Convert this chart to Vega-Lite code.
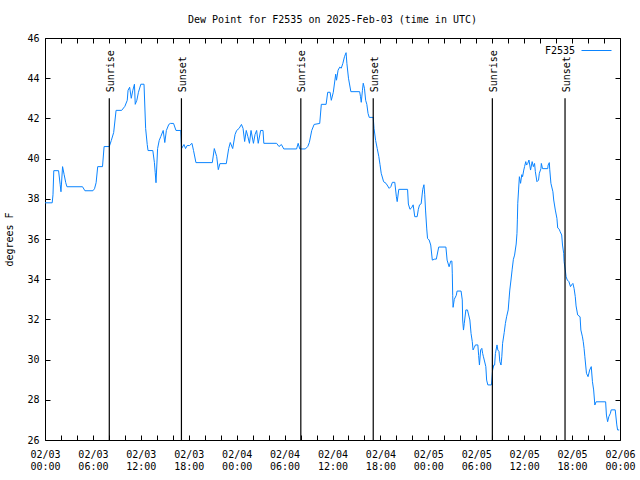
{
  "$schema": "https://vega.github.io/schema/vega-lite/v6.json",
  "width": 575,
  "height": 402,
  "autosize": {"type": "none"},
  "padding": {"left": 45, "top": 38, "right": 20, "bottom": 40},
  "background": "white",
  "title": {"text": "Dew Point for F2535 on 2025-Feb-03 (time in UTC)", "anchor": "middle", "offset": 8, "font": "DejaVu Sans Mono", "fontSize": 10, "fontWeight": "normal", "color": "black"},
  "config": {
    "view": {"stroke": "black", "strokeWidth": 1},
    "axis": {"grid": false, "domain": false, "tickColor": "black", "tickSize": -5, "tickWidth": 1, "labelFont": "DejaVu Sans Mono", "labelFontSize": 10, "labelColor": "black", "titleFont": "DejaVu Sans Mono", "titleFontSize": 10, "titleFontWeight": "normal", "titleColor": "black"},
    "legend": {"labelFont": "DejaVu Sans Mono", "labelFontSize": 10, "labelColor": "black"}
  },
  "datasets": {
    "dew": [
      {"time": "2025-02-03T00:00Z", "dewpoint": 37.8},
      {"time": "2025-02-03T00:54Z", "dewpoint": 37.8},
      {"time": "2025-02-03T01:00Z", "dewpoint": 38.2},
      {"time": "2025-02-03T01:06Z", "dewpoint": 39.4},
      {"time": "2025-02-03T01:42Z", "dewpoint": 39.4},
      {"time": "2025-02-03T01:54Z", "dewpoint": 38.7},
      {"time": "2025-02-03T02:00Z", "dewpoint": 38.35},
      {"time": "2025-02-03T02:12Z", "dewpoint": 39.6},
      {"time": "2025-02-03T02:24Z", "dewpoint": 39.2},
      {"time": "2025-02-03T02:36Z", "dewpoint": 38.8},
      {"time": "2025-02-03T02:45Z", "dewpoint": 38.6},
      {"time": "2025-02-03T04:42Z", "dewpoint": 38.6},
      {"time": "2025-02-03T05:00Z", "dewpoint": 38.4},
      {"time": "2025-02-03T06:00Z", "dewpoint": 38.4},
      {"time": "2025-02-03T06:12Z", "dewpoint": 38.5},
      {"time": "2025-02-03T06:24Z", "dewpoint": 38.8},
      {"time": "2025-02-03T06:36Z", "dewpoint": 39.6},
      {"time": "2025-02-03T07:12Z", "dewpoint": 39.6},
      {"time": "2025-02-03T07:24Z", "dewpoint": 40.6},
      {"time": "2025-02-03T08:03Z", "dewpoint": 40.6},
      {"time": "2025-02-03T08:18Z", "dewpoint": 40.9},
      {"time": "2025-02-03T08:36Z", "dewpoint": 41.3},
      {"time": "2025-02-03T08:54Z", "dewpoint": 42.4},
      {"time": "2025-02-03T09:36Z", "dewpoint": 42.4},
      {"time": "2025-02-03T10:00Z", "dewpoint": 42.6},
      {"time": "2025-02-03T10:18Z", "dewpoint": 42.9},
      {"time": "2025-02-03T10:24Z", "dewpoint": 43.4},
      {"time": "2025-02-03T10:36Z", "dewpoint": 43.55},
      {"time": "2025-02-03T10:48Z", "dewpoint": 43.0},
      {"time": "2025-02-03T11:00Z", "dewpoint": 43.4},
      {"time": "2025-02-03T11:12Z", "dewpoint": 43.7},
      {"time": "2025-02-03T11:18Z", "dewpoint": 42.7},
      {"time": "2025-02-03T11:30Z", "dewpoint": 42.9},
      {"time": "2025-02-03T11:42Z", "dewpoint": 43.3},
      {"time": "2025-02-03T12:00Z", "dewpoint": 43.7},
      {"time": "2025-02-03T12:24Z", "dewpoint": 43.7},
      {"time": "2025-02-03T12:36Z", "dewpoint": 41.5},
      {"time": "2025-02-03T12:48Z", "dewpoint": 40.7},
      {"time": "2025-02-03T12:54Z", "dewpoint": 40.4},
      {"time": "2025-02-03T13:30Z", "dewpoint": 40.4},
      {"time": "2025-02-03T13:42Z", "dewpoint": 39.8},
      {"time": "2025-02-03T13:48Z", "dewpoint": 39.3},
      {"time": "2025-02-03T13:54Z", "dewpoint": 38.8},
      {"time": "2025-02-03T14:06Z", "dewpoint": 40.5},
      {"time": "2025-02-03T14:18Z", "dewpoint": 40.9},
      {"time": "2025-02-03T14:30Z", "dewpoint": 41.1},
      {"time": "2025-02-03T14:48Z", "dewpoint": 41.4},
      {"time": "2025-02-03T15:00Z", "dewpoint": 40.8},
      {"time": "2025-02-03T15:12Z", "dewpoint": 41.4},
      {"time": "2025-02-03T15:30Z", "dewpoint": 41.7},
      {"time": "2025-02-03T15:42Z", "dewpoint": 41.75},
      {"time": "2025-02-03T16:06Z", "dewpoint": 41.75},
      {"time": "2025-02-03T16:24Z", "dewpoint": 41.4},
      {"time": "2025-02-03T17:00Z", "dewpoint": 41.4},
      {"time": "2025-02-03T17:06Z", "dewpoint": 40.5},
      {"time": "2025-02-03T17:24Z", "dewpoint": 40.7},
      {"time": "2025-02-03T17:36Z", "dewpoint": 40.5},
      {"time": "2025-02-03T17:48Z", "dewpoint": 40.65},
      {"time": "2025-02-03T18:06Z", "dewpoint": 40.65},
      {"time": "2025-02-03T18:24Z", "dewpoint": 40.76},
      {"time": "2025-02-03T18:36Z", "dewpoint": 40.4},
      {"time": "2025-02-03T18:54Z", "dewpoint": 39.8},
      {"time": "2025-02-03T20:57Z", "dewpoint": 39.8},
      {"time": "2025-02-03T21:12Z", "dewpoint": 40.5},
      {"time": "2025-02-03T21:30Z", "dewpoint": 40.1},
      {"time": "2025-02-03T21:42Z", "dewpoint": 39.45},
      {"time": "2025-02-03T21:54Z", "dewpoint": 39.75},
      {"time": "2025-02-03T22:42Z", "dewpoint": 39.75},
      {"time": "2025-02-03T23:00Z", "dewpoint": 40.5},
      {"time": "2025-02-03T23:12Z", "dewpoint": 40.8},
      {"time": "2025-02-03T23:30Z", "dewpoint": 40.5},
      {"time": "2025-02-03T23:48Z", "dewpoint": 41.2},
      {"time": "2025-02-04T00:00Z", "dewpoint": 41.4},
      {"time": "2025-02-04T00:18Z", "dewpoint": 41.5},
      {"time": "2025-02-04T00:36Z", "dewpoint": 41.7},
      {"time": "2025-02-04T00:48Z", "dewpoint": 41.5},
      {"time": "2025-02-04T01:00Z", "dewpoint": 40.85},
      {"time": "2025-02-04T01:12Z", "dewpoint": 41.4},
      {"time": "2025-02-04T01:24Z", "dewpoint": 41.1},
      {"time": "2025-02-04T01:36Z", "dewpoint": 40.76},
      {"time": "2025-02-04T01:48Z", "dewpoint": 41.4},
      {"time": "2025-02-04T02:06Z", "dewpoint": 40.76},
      {"time": "2025-02-04T02:18Z", "dewpoint": 41.2},
      {"time": "2025-02-04T02:30Z", "dewpoint": 41.4},
      {"time": "2025-02-04T02:42Z", "dewpoint": 40.76},
      {"time": "2025-02-04T03:00Z", "dewpoint": 41.4},
      {"time": "2025-02-04T03:18Z", "dewpoint": 41.4},
      {"time": "2025-02-04T03:24Z", "dewpoint": 40.76},
      {"time": "2025-02-04T05:00Z", "dewpoint": 40.76},
      {"time": "2025-02-04T05:18Z", "dewpoint": 40.6},
      {"time": "2025-02-04T05:36Z", "dewpoint": 40.7},
      {"time": "2025-02-04T05:54Z", "dewpoint": 40.48},
      {"time": "2025-02-04T07:30Z", "dewpoint": 40.48},
      {"time": "2025-02-04T07:42Z", "dewpoint": 40.76},
      {"time": "2025-02-04T07:54Z", "dewpoint": 40.48},
      {"time": "2025-02-04T08:36Z", "dewpoint": 40.48},
      {"time": "2025-02-04T08:54Z", "dewpoint": 40.6},
      {"time": "2025-02-04T09:06Z", "dewpoint": 40.8},
      {"time": "2025-02-04T09:24Z", "dewpoint": 41.4},
      {"time": "2025-02-04T09:42Z", "dewpoint": 41.7},
      {"time": "2025-02-04T10:24Z", "dewpoint": 41.75},
      {"time": "2025-02-04T10:36Z", "dewpoint": 42.7},
      {"time": "2025-02-04T11:12Z", "dewpoint": 42.7},
      {"time": "2025-02-04T11:24Z", "dewpoint": 43.3},
      {"time": "2025-02-04T11:42Z", "dewpoint": 43.3},
      {"time": "2025-02-04T11:51Z", "dewpoint": 42.9},
      {"time": "2025-02-04T12:06Z", "dewpoint": 43.3},
      {"time": "2025-02-04T12:24Z", "dewpoint": 44.2},
      {"time": "2025-02-04T12:30Z", "dewpoint": 43.9},
      {"time": "2025-02-04T12:42Z", "dewpoint": 44.4},
      {"time": "2025-02-04T12:54Z", "dewpoint": 44.55},
      {"time": "2025-02-04T13:06Z", "dewpoint": 44.5},
      {"time": "2025-02-04T13:18Z", "dewpoint": 44.74},
      {"time": "2025-02-04T13:30Z", "dewpoint": 45.07},
      {"time": "2025-02-04T13:42Z", "dewpoint": 45.27},
      {"time": "2025-02-04T13:48Z", "dewpoint": 44.74},
      {"time": "2025-02-04T14:00Z", "dewpoint": 44.0},
      {"time": "2025-02-04T14:18Z", "dewpoint": 43.33},
      {"time": "2025-02-04T15:24Z", "dewpoint": 43.33},
      {"time": "2025-02-04T15:30Z", "dewpoint": 43.1},
      {"time": "2025-02-04T15:36Z", "dewpoint": 42.8},
      {"time": "2025-02-04T15:45Z", "dewpoint": 43.4},
      {"time": "2025-02-04T15:51Z", "dewpoint": 43.75},
      {"time": "2025-02-04T16:00Z", "dewpoint": 43.5},
      {"time": "2025-02-04T16:09Z", "dewpoint": 42.9},
      {"time": "2025-02-04T16:18Z", "dewpoint": 42.7},
      {"time": "2025-02-04T16:27Z", "dewpoint": 42.25},
      {"time": "2025-02-04T16:36Z", "dewpoint": 42.05},
      {"time": "2025-02-04T17:06Z", "dewpoint": 42.05},
      {"time": "2025-02-04T17:12Z", "dewpoint": 41.5},
      {"time": "2025-02-04T17:24Z", "dewpoint": 40.9},
      {"time": "2025-02-04T17:36Z", "dewpoint": 40.5},
      {"time": "2025-02-04T17:48Z", "dewpoint": 40.1},
      {"time": "2025-02-04T17:57Z", "dewpoint": 39.7},
      {"time": "2025-02-04T18:06Z", "dewpoint": 39.27},
      {"time": "2025-02-04T18:24Z", "dewpoint": 38.85},
      {"time": "2025-02-04T18:42Z", "dewpoint": 38.77},
      {"time": "2025-02-04T19:06Z", "dewpoint": 38.52},
      {"time": "2025-02-04T19:18Z", "dewpoint": 38.6},
      {"time": "2025-02-04T19:30Z", "dewpoint": 38.82},
      {"time": "2025-02-04T19:48Z", "dewpoint": 38.82},
      {"time": "2025-02-04T20:00Z", "dewpoint": 38.1},
      {"time": "2025-02-04T20:06Z", "dewpoint": 37.86},
      {"time": "2025-02-04T20:18Z", "dewpoint": 38.47},
      {"time": "2025-02-04T21:24Z", "dewpoint": 38.47},
      {"time": "2025-02-04T21:30Z", "dewpoint": 37.74},
      {"time": "2025-02-04T21:42Z", "dewpoint": 37.48},
      {"time": "2025-02-04T21:54Z", "dewpoint": 37.55},
      {"time": "2025-02-04T22:06Z", "dewpoint": 37.7},
      {"time": "2025-02-04T22:18Z", "dewpoint": 37.11},
      {"time": "2025-02-04T22:36Z", "dewpoint": 37.11},
      {"time": "2025-02-04T22:45Z", "dewpoint": 37.48},
      {"time": "2025-02-04T22:54Z", "dewpoint": 37.7},
      {"time": "2025-02-04T23:06Z", "dewpoint": 37.75},
      {"time": "2025-02-04T23:18Z", "dewpoint": 38.47},
      {"time": "2025-02-04T23:27Z", "dewpoint": 38.7},
      {"time": "2025-02-04T23:33Z", "dewpoint": 38.2},
      {"time": "2025-02-04T23:39Z", "dewpoint": 37.44},
      {"time": "2025-02-04T23:48Z", "dewpoint": 36.5},
      {"time": "2025-02-04T23:54Z", "dewpoint": 36.03},
      {"time": "2025-02-05T00:06Z", "dewpoint": 35.95},
      {"time": "2025-02-05T00:18Z", "dewpoint": 35.7},
      {"time": "2025-02-05T00:30Z", "dewpoint": 34.95},
      {"time": "2025-02-05T00:48Z", "dewpoint": 35.0},
      {"time": "2025-02-05T01:00Z", "dewpoint": 35.0},
      {"time": "2025-02-05T01:18Z", "dewpoint": 35.6},
      {"time": "2025-02-05T02:12Z", "dewpoint": 35.6},
      {"time": "2025-02-05T02:21Z", "dewpoint": 34.95},
      {"time": "2025-02-05T02:36Z", "dewpoint": 34.62},
      {"time": "2025-02-05T02:48Z", "dewpoint": 34.9},
      {"time": "2025-02-05T02:57Z", "dewpoint": 34.9},
      {"time": "2025-02-05T03:00Z", "dewpoint": 34.3},
      {"time": "2025-02-05T03:03Z", "dewpoint": 33.2},
      {"time": "2025-02-05T03:06Z", "dewpoint": 32.6},
      {"time": "2025-02-05T03:15Z", "dewpoint": 33.0},
      {"time": "2025-02-05T03:30Z", "dewpoint": 33.2},
      {"time": "2025-02-05T03:36Z", "dewpoint": 33.41},
      {"time": "2025-02-05T04:06Z", "dewpoint": 33.41},
      {"time": "2025-02-05T04:15Z", "dewpoint": 32.97},
      {"time": "2025-02-05T04:18Z", "dewpoint": 31.97},
      {"time": "2025-02-05T04:24Z", "dewpoint": 31.47},
      {"time": "2025-02-05T04:30Z", "dewpoint": 31.8},
      {"time": "2025-02-05T04:42Z", "dewpoint": 32.47},
      {"time": "2025-02-05T04:54Z", "dewpoint": 32.47},
      {"time": "2025-02-05T05:03Z", "dewpoint": 32.22},
      {"time": "2025-02-05T05:12Z", "dewpoint": 31.97},
      {"time": "2025-02-05T05:21Z", "dewpoint": 31.3},
      {"time": "2025-02-05T05:30Z", "dewpoint": 30.9},
      {"time": "2025-02-05T05:36Z", "dewpoint": 30.48},
      {"time": "2025-02-05T05:45Z", "dewpoint": 30.6},
      {"time": "2025-02-05T05:54Z", "dewpoint": 30.73},
      {"time": "2025-02-05T06:12Z", "dewpoint": 30.73},
      {"time": "2025-02-05T06:18Z", "dewpoint": 30.2},
      {"time": "2025-02-05T06:24Z", "dewpoint": 29.73},
      {"time": "2025-02-05T06:33Z", "dewpoint": 30.48},
      {"time": "2025-02-05T06:42Z", "dewpoint": 30.56},
      {"time": "2025-02-05T06:48Z", "dewpoint": 30.31},
      {"time": "2025-02-05T06:54Z", "dewpoint": 30.14},
      {"time": "2025-02-05T07:00Z", "dewpoint": 29.98},
      {"time": "2025-02-05T07:12Z", "dewpoint": 29.65},
      {"time": "2025-02-05T07:18Z", "dewpoint": 28.98},
      {"time": "2025-02-05T07:27Z", "dewpoint": 28.74},
      {"time": "2025-02-05T07:54Z", "dewpoint": 28.74},
      {"time": "2025-02-05T08:03Z", "dewpoint": 29.48},
      {"time": "2025-02-05T08:12Z", "dewpoint": 29.73},
      {"time": "2025-02-05T08:18Z", "dewpoint": 29.73},
      {"time": "2025-02-05T08:24Z", "dewpoint": 30.3},
      {"time": "2025-02-05T08:36Z", "dewpoint": 30.73},
      {"time": "2025-02-05T08:42Z", "dewpoint": 30.48},
      {"time": "2025-02-05T08:51Z", "dewpoint": 30.4},
      {"time": "2025-02-05T08:57Z", "dewpoint": 29.9},
      {"time": "2025-02-05T09:06Z", "dewpoint": 29.73},
      {"time": "2025-02-05T09:12Z", "dewpoint": 30.14},
      {"time": "2025-02-05T09:18Z", "dewpoint": 30.81},
      {"time": "2025-02-05T09:30Z", "dewpoint": 31.34},
      {"time": "2025-02-05T09:39Z", "dewpoint": 31.8},
      {"time": "2025-02-05T09:48Z", "dewpoint": 32.13},
      {"time": "2025-02-05T10:00Z", "dewpoint": 32.47},
      {"time": "2025-02-05T10:06Z", "dewpoint": 32.97},
      {"time": "2025-02-05T10:12Z", "dewpoint": 33.46},
      {"time": "2025-02-05T10:21Z", "dewpoint": 33.96},
      {"time": "2025-02-05T10:30Z", "dewpoint": 34.5},
      {"time": "2025-02-05T10:39Z", "dewpoint": 34.99},
      {"time": "2025-02-05T10:48Z", "dewpoint": 35.2},
      {"time": "2025-02-05T11:00Z", "dewpoint": 35.75},
      {"time": "2025-02-05T11:06Z", "dewpoint": 36.28},
      {"time": "2025-02-05T11:09Z", "dewpoint": 36.95},
      {"time": "2025-02-05T11:12Z", "dewpoint": 37.78},
      {"time": "2025-02-05T11:18Z", "dewpoint": 38.44},
      {"time": "2025-02-05T11:24Z", "dewpoint": 39.1},
      {"time": "2025-02-05T11:33Z", "dewpoint": 38.77},
      {"time": "2025-02-05T11:42Z", "dewpoint": 39.2},
      {"time": "2025-02-05T11:48Z", "dewpoint": 39.1},
      {"time": "2025-02-05T11:57Z", "dewpoint": 39.43},
      {"time": "2025-02-05T12:03Z", "dewpoint": 39.6},
      {"time": "2025-02-05T12:12Z", "dewpoint": 39.85},
      {"time": "2025-02-05T12:18Z", "dewpoint": 39.68},
      {"time": "2025-02-05T12:27Z", "dewpoint": 39.76},
      {"time": "2025-02-05T12:36Z", "dewpoint": 39.93},
      {"time": "2025-02-05T12:42Z", "dewpoint": 39.68},
      {"time": "2025-02-05T12:48Z", "dewpoint": 39.43},
      {"time": "2025-02-05T13:00Z", "dewpoint": 39.85},
      {"time": "2025-02-05T13:09Z", "dewpoint": 39.6},
      {"time": "2025-02-05T13:18Z", "dewpoint": 39.76},
      {"time": "2025-02-05T13:24Z", "dewpoint": 39.35},
      {"time": "2025-02-05T13:36Z", "dewpoint": 38.85},
      {"time": "2025-02-05T13:48Z", "dewpoint": 38.93},
      {"time": "2025-02-05T13:54Z", "dewpoint": 39.27},
      {"time": "2025-02-05T14:06Z", "dewpoint": 39.5},
      {"time": "2025-02-05T14:09Z", "dewpoint": 39.76},
      {"time": "2025-02-05T14:18Z", "dewpoint": 39.5},
      {"time": "2025-02-05T14:57Z", "dewpoint": 39.5},
      {"time": "2025-02-05T15:00Z", "dewpoint": 39.68},
      {"time": "2025-02-05T15:09Z", "dewpoint": 39.8},
      {"time": "2025-02-05T15:12Z", "dewpoint": 39.47},
      {"time": "2025-02-05T15:21Z", "dewpoint": 38.77},
      {"time": "2025-02-05T15:36Z", "dewpoint": 38.35},
      {"time": "2025-02-05T15:42Z", "dewpoint": 37.94},
      {"time": "2025-02-05T15:54Z", "dewpoint": 37.44},
      {"time": "2025-02-05T16:06Z", "dewpoint": 37.03},
      {"time": "2025-02-05T16:12Z", "dewpoint": 36.55},
      {"time": "2025-02-05T16:24Z", "dewpoint": 36.48},
      {"time": "2025-02-05T16:30Z", "dewpoint": 36.37},
      {"time": "2025-02-05T16:42Z", "dewpoint": 36.2},
      {"time": "2025-02-05T16:48Z", "dewpoint": 35.7},
      {"time": "2025-02-05T16:57Z", "dewpoint": 35.29},
      {"time": "2025-02-05T17:00Z", "dewpoint": 34.87},
      {"time": "2025-02-05T17:09Z", "dewpoint": 34.46},
      {"time": "2025-02-05T17:15Z", "dewpoint": 34.12},
      {"time": "2025-02-05T17:24Z", "dewpoint": 33.96},
      {"time": "2025-02-05T17:36Z", "dewpoint": 33.88},
      {"time": "2025-02-05T17:48Z", "dewpoint": 33.63},
      {"time": "2025-02-05T18:00Z", "dewpoint": 33.75},
      {"time": "2025-02-05T18:06Z", "dewpoint": 33.79},
      {"time": "2025-02-05T18:15Z", "dewpoint": 33.54},
      {"time": "2025-02-05T18:24Z", "dewpoint": 33.13},
      {"time": "2025-02-05T18:30Z", "dewpoint": 32.67},
      {"time": "2025-02-05T18:42Z", "dewpoint": 32.22},
      {"time": "2025-02-05T19:00Z", "dewpoint": 32.13},
      {"time": "2025-02-05T19:06Z", "dewpoint": 31.47},
      {"time": "2025-02-05T19:18Z", "dewpoint": 31.13},
      {"time": "2025-02-05T19:24Z", "dewpoint": 30.89},
      {"time": "2025-02-05T19:30Z", "dewpoint": 30.56},
      {"time": "2025-02-05T19:36Z", "dewpoint": 30.14},
      {"time": "2025-02-05T19:42Z", "dewpoint": 29.73},
      {"time": "2025-02-05T19:48Z", "dewpoint": 29.32},
      {"time": "2025-02-05T20:00Z", "dewpoint": 29.15},
      {"time": "2025-02-05T20:12Z", "dewpoint": 29.48},
      {"time": "2025-02-05T20:24Z", "dewpoint": 29.65},
      {"time": "2025-02-05T20:33Z", "dewpoint": 28.9},
      {"time": "2025-02-05T20:42Z", "dewpoint": 28.49},
      {"time": "2025-02-05T20:51Z", "dewpoint": 27.74},
      {"time": "2025-02-05T21:00Z", "dewpoint": 27.9},
      {"time": "2025-02-05T22:12Z", "dewpoint": 27.9},
      {"time": "2025-02-05T22:18Z", "dewpoint": 27.24},
      {"time": "2025-02-05T22:27Z", "dewpoint": 26.91},
      {"time": "2025-02-05T22:36Z", "dewpoint": 27.16},
      {"time": "2025-02-05T22:48Z", "dewpoint": 27.33},
      {"time": "2025-02-05T22:54Z", "dewpoint": 27.5},
      {"time": "2025-02-05T23:24Z", "dewpoint": 27.5},
      {"time": "2025-02-05T23:36Z", "dewpoint": 26.75},
      {"time": "2025-02-05T23:42Z", "dewpoint": 26.5},
      {"time": "2025-02-05T23:54Z", "dewpoint": 26.5}
    ],
    "sun": [
      {"time": "2025-02-03T08:03Z", "event": "Sunrise"},
      {"time": "2025-02-03T17:05Z", "event": "Sunset"},
      {"time": "2025-02-04T08:02Z", "event": "Sunrise"},
      {"time": "2025-02-04T17:06Z", "event": "Sunset"},
      {"time": "2025-02-05T08:01Z", "event": "Sunrise"},
      {"time": "2025-02-05T17:07Z", "event": "Sunset"}
    ]
  },
  "layer": [
    {
      "data": {"name": "dew"},
      "mark": {"type": "line", "strokeWidth": 1, "interpolate": "linear"},
      "encoding": {
        "x": {"field": "time", "type": "temporal",
          "scale": {"type": "utc", "domain": [1738540800000, 1738800000000], "nice": false},
          "axis": {"orient": "bottom", "title": null,
            "values": [1738540800000, 1738548000000, 1738555200000, 1738562400000, 1738569600000, 1738576800000, 1738584000000, 1738591200000, 1738598400000, 1738605600000, 1738612800000, 1738620000000, 1738627200000, 1738634400000, 1738641600000, 1738648800000, 1738656000000, 1738663200000, 1738670400000, 1738677600000, 1738684800000, 1738692000000, 1738699200000, 1738706400000, 1738713600000, 1738720800000, 1738728000000, 1738735200000, 1738742400000, 1738749600000, 1738756800000, 1738764000000, 1738771200000, 1738778400000, 1738785600000, 1738792800000, 1738800000000],
            "labelOverlap": false, "labelFlush": false, "labelBound": false, "labelPadding": 14, "labelLineHeight": 12,
            "labelExpr": "utchours(datum.value) % 6 == 0 ? [utcFormat(datum.value, '%m/%d'), utcFormat(datum.value, '%H:%M')] : ''"}},
        "y": {"field": "dewpoint", "type": "quantitative",
          "scale": {"domain": [26, 46], "nice": false, "zero": false},
          "axis": {"orient": "left", "title": "degrees F", "values": [26, 28, 30, 32, 34, 36, 38, 40, 42, 44, 46], "labelPadding": 11, "titlePadding": 12}},
        "color": {"datum": "F2535", "type": "nominal", "scale": {"range": ["#0a84ff"]},
          "legend": {"title": null, "orient": "none", "legendX": 536, "legendY": -3, "symbolType": "stroke", "symbolSize": 900, "symbolStrokeWidth": 1, "labelAlign": "right", "labelOffset": -37}}
      }
    },
    {
      "data": {"name": "sun"},
      "mark": {"type": "rule", "color": "black", "strokeWidth": 1.2},
      "encoding": {
        "x": {"field": "time", "type": "temporal",
          "axis": {"orient": "top", "labels": false, "title": null,
            "values": [1738540800000, 1738548000000, 1738555200000, 1738562400000, 1738569600000, 1738576800000, 1738584000000, 1738591200000, 1738598400000, 1738605600000, 1738612800000, 1738620000000, 1738627200000, 1738634400000, 1738641600000, 1738648800000, 1738656000000, 1738663200000, 1738670400000, 1738677600000, 1738684800000, 1738692000000, 1738699200000, 1738706400000, 1738713600000, 1738720800000, 1738728000000, 1738735200000, 1738742400000, 1738749600000, 1738756800000, 1738764000000, 1738771200000, 1738778400000, 1738785600000, 1738792800000, 1738800000000]}},
        "y": {"datum": 43, "type": "quantitative",
          "axis": {"orient": "right", "labels": false, "title": null, "values": [26, 28, 30, 32, 34, 36, 38, 40, 42, 44, 46]}},
        "y2": {"datum": 26}
      }
    },
    {
      "data": {"name": "sun"},
      "mark": {"type": "text", "angle": 270, "align": "left", "baseline": "middle", "dx": 6, "dy": 1.5, "font": "DejaVu Sans Mono", "fontSize": 10, "color": "black"},
      "encoding": {
        "x": {"field": "time", "type": "temporal", "axis": null},
        "y": {"datum": 43, "type": "quantitative", "axis": null},
        "text": {"field": "event"}
      }
    }
  ]
}
